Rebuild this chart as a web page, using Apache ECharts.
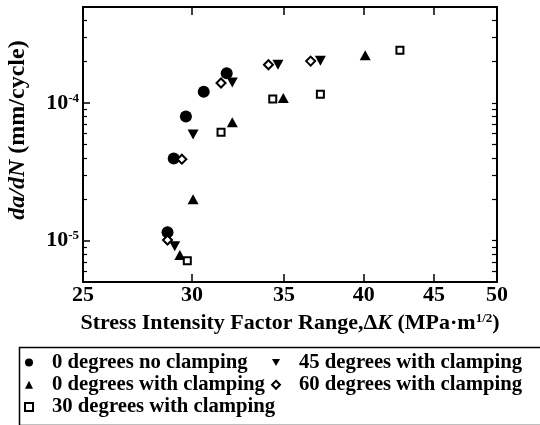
<!DOCTYPE html>
<html>
<head>
<meta charset="utf-8">
<script src="https://cdn.jsdelivr.net/npm/echarts@6/dist/echarts.min.js"></script>
<style>
  html, body { margin: 0; padding: 0; background: #fff; }
  #chart-box { width: 540px; height: 425px; }
</style>
</head>
<body>
<div id="chart-box"></div>
<script>
// [ΔK, da/dN]
const deg0NoClamp = [[28.8, 1.15e-5], [29.1, 3.95e-5], [29.7, 8.0e-5], [30.6, 1.21e-4], [31.8, 1.65e-4]]
const deg0Clamp = [[29.4, 7.85e-6], [30.06, 2.0e-5], [32.1, 7.27e-5], [34.96, 1.09e-4], [40.1, 2.23e-4]]
const deg30Clamp = [[29.77, 7.14e-6], [31.5, 6.15e-5], [34.35, 1.07e-4], [37.2, 1.16e-4], [42.5, 2.42e-4]]
const deg45Clamp = [[29.15, 9.1e-6], [30.06, 5.9e-5], [32.1, 1.41e-4], [34.65, 1.9e-4], [37.2, 2.03e-4]]
const deg60Clamp = [[28.8, 1.01e-5], [29.5, 3.91e-5], [31.5, 1.40e-4], [34.1, 1.9e-4], [36.6, 2.02e-4]]

const seriesNames = ['0 degrees no clamping', '0 degrees with clamping', '30 degrees with clamping',
  '45 degrees with clamping', '60 degrees with clamping']

const xLabels = [25, 30, 35, 40, 45, 50]
const xTicks = [30, 35, 40, 45]
const yLabels = [1e-5, 1e-4]
const yMinor = [6e-6, 7e-6, 8e-6, 9e-6, 2e-5, 3e-5, 4e-5, 5e-5, 6e-5, 7e-5, 8e-5, 9e-5, 2e-4, 3e-4, 4e-4]

const font = 'Liberation Serif'
const black = '#000'
const downTriangle = 'path://M0,0L10,0L5,9Z'

const chart = echarts.init(document.getElementById('chart-box'))

const baseAxisX = {
  type: 'log', logBase: 10, min: 25, max: 50, gridIndex: 0,
  splitLine: { show: false },
  axisLine: { show: true, lineStyle: { color: black, width: 2 } }
}
const baseAxisY = {
  type: 'log', logBase: 10, min: 5e-6, max: 5e-4, gridIndex: 0,
  splitLine: { show: false },
  axisLine: { show: false }
}

function ticks(values, len, w) {
  return { show: true, inside: true, length: len, customValues: values, lineStyle: { color: black, width: w } }
}

function expLabel(v) {
  const e = Math.round(Math.log10(v))
  return '{b|10}{s|' + e + '}'
}

const legendText = { color: black, fontFamily: font, fontWeight: 'bold', fontSize: 20.7, lineHeight: 20, padding: [0, 0, 0, 14] }

const option = {
  animation: false,
  backgroundColor: '#fff',
  grid: { left: 83, right: 43, top: 7, bottom: 143, outerBoundsMode: 'none' },
  xAxis: [
    Object.assign({}, baseAxisX, {
      position: 'bottom',
      axisTick: ticks(xTicks, 8, 1.5),
      axisLabel: {
        customValues: xLabels, margin: 2, color: black,
        fontFamily: font, fontWeight: 'bold', fontSize: 22
      },
      name: 'Stress Intensity Factor Range,Δ{i|K} (MPa·m{s|1/2})',
      nameLocation: 'middle',
      nameGap: 30,
      nameTextStyle: {
        color: black, fontFamily: font, fontWeight: 'bold', fontSize: 22,
        rich: {
          i: { fontFamily: font, fontWeight: 'bold', fontStyle: 'italic', fontSize: 22, color: black },
          s: { fontFamily: font, fontWeight: 'bold', fontSize: 13, color: black, verticalAlign: 'top' }
        }
      }
    }),
    Object.assign({}, baseAxisX, {
      position: 'top',
      axisTick: ticks(xTicks, 8, 1.5),
      axisLabel: { show: false }
    })
  ],
  yAxis: [
    Object.assign({}, baseAxisY, {
      position: 'left',
      axisLine: { show: true, lineStyle: { color: black, width: 2 } },
      axisTick: ticks(yMinor, 4, 1.2),
      axisLabel: {
        customValues: yLabels, margin: 4, color: black,
        formatter: expLabel,
        rich: {
          b: { fontFamily: font, fontWeight: 'bold', fontSize: 22, color: black, lineHeight: 22 },
          s: { fontFamily: font, fontWeight: 'bold', fontSize: 13, color: black, verticalAlign: 'top' }
        }
      },
      name: '{i|da/dN} (mm/cycle)',
      nameLocation: 'middle',
      nameRotate: 90,
      nameGap: 53,
      nameTextStyle: {
        color: black, fontFamily: font, fontWeight: 'bold', fontSize: 24,
        padding: [0, 0, 0, 29],
        rich: {
          i: { fontFamily: font, fontWeight: 'bold', fontStyle: 'italic', fontSize: 24, color: black }
        }
      }
    }),
    Object.assign({}, baseAxisY, {
      position: 'left',
      axisTick: ticks(yLabels, 7, 1.5),
      axisLabel: { show: false }
    }),
    Object.assign({}, baseAxisY, {
      position: 'right',
      axisLine: { show: true, lineStyle: { color: black, width: 2 } },
      axisTick: ticks(yMinor.concat(yLabels), 5, 1.2),
      axisLabel: { show: false }
    })
  ],
  legend: [
    {
      orient: 'vertical', left: 24, top: 352, padding: 0, itemGap: 1.3,
      itemWidth: 8, itemHeight: 8,
      data: [seriesNames[0], seriesNames[1], seriesNames[2]],
      textStyle: legendText
    },
    {
      orient: 'vertical', left: 271, top: 352, padding: 0, itemGap: 1.3,
      itemWidth: 8, itemHeight: 8,
      data: [{ name: seriesNames[3], icon: downTriangle }, seriesNames[4]],
      textStyle: legendText
    }
  ],
  graphic: [
    {
      type: 'rect', left: 17, top: 345,
      shape: { width: 540, height: 78 },
      style: { fill: 'none', stroke: black, lineWidth: 1.5 }
    }
  ],
  series: [
    {
      name: seriesNames[0], type: 'scatter', data: deg0NoClamp,
      symbol: 'circle', symbolSize: 12,
      itemStyle: { color: black, opacity: 1 }
    },
    {
      name: seriesNames[1], type: 'scatter', data: deg0Clamp,
      symbol: 'triangle', symbolSize: [11, 10],
      itemStyle: { color: black, opacity: 1 }
    },
    {
      name: seriesNames[2], type: 'scatter', data: deg30Clamp,
      symbol: 'rect', symbolSize: 7,
      itemStyle: { color: '#fff', borderColor: black, borderWidth: 2, opacity: 1 }
    },
    {
      name: seriesNames[3], type: 'scatter', data: deg45Clamp,
      symbol: 'triangle', symbolRotate: 180, symbolSize: [11, 10],
      itemStyle: { color: black, opacity: 1 }
    },
    {
      name: seriesNames[4], type: 'scatter', data: deg60Clamp,
      symbol: 'diamond', symbolSize: 9,
      itemStyle: { color: '#fff', borderColor: black, borderWidth: 2, opacity: 1 }
    }
  ]
}

chart.setOption(option)
</script>
</body>
</html>
